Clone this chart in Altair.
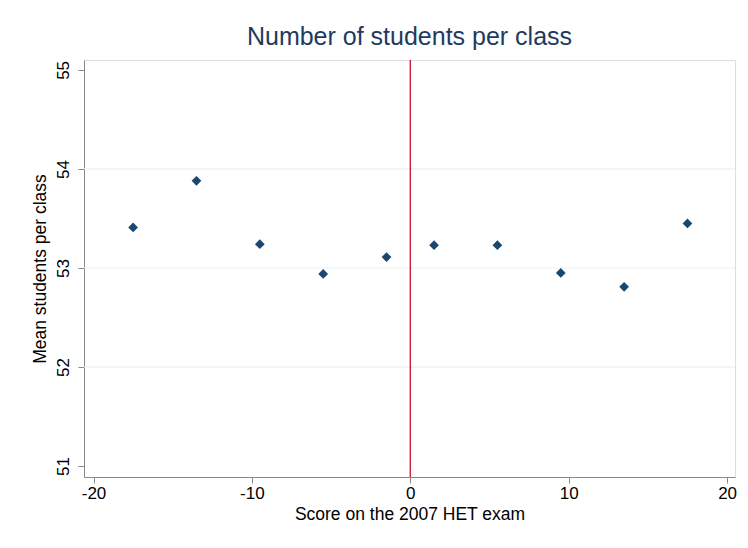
import altair as alt
import pandas as pd

score_bins = [-17.5, -13.5, -9.5, -5.5, -1.5, 1.5, 5.5, 9.5, 13.5, 17.5]
mean_students = [53.41, 53.88, 53.24, 52.94, 53.11, 53.23, 53.23, 52.95, 52.81, 53.45]
grid_values = [52, 53, 54]
cutoff = [0]
x_ticks = [-20, -10, 0, 10, 20]
y_ticks = [51, 52, 53, 54, 55]

pts = pd.DataFrame({"score": score_bins, "mean": mean_students})
grid = pd.DataFrame({"g": grid_values})
cut = pd.DataFrame({"c": cutoff})

FONT = "Liberation Sans"
xscale = alt.Scale(domain=[-20.6, 20.5], nice=False, zero=False)
yscale = alt.Scale(domain=[50.89, 55.1], nice=False, zero=False)

xaxis = alt.Axis(title="Score on the 2007 HET exam", values=x_ticks,
                 grid=False, labelFontSize=17, titleFontSize=17.5,
                 titleFontWeight="normal", labelExpr="'' + datum.value",
                 labelPadding=2, titlePadding=4, tickSize=6,
                 labelFlush=False)
yaxis = alt.Axis(title="Mean students per class", values=y_ticks,
                 grid=False, labelFontSize=17, titleFontSize=17.5,
                 titleFontWeight="normal", labelExpr="'' + datum.value",
                 labelAngle=270, labelAlign="center", labelBaseline="bottom",
                 labelPadding=6, titlePadding=5, tickSize=6)

gridlayer = alt.Chart(grid).mark_rule(color="#eaf2f3", strokeWidth=1.2).encode(
    y=alt.Y("g:Q", scale=yscale, axis=yaxis)
)

cutlayer = alt.Chart(cut).mark_rule(color="#c8102e", strokeWidth=1.3).encode(
    x=alt.X("c:Q", scale=xscale, axis=xaxis)
)

points = alt.Chart(pts).mark_point(
    shape="diamond", filled=True, color="#1a476f", size=95, opacity=1
).encode(
    x=alt.X("score:Q", scale=xscale, axis=xaxis),
    y=alt.Y("mean:Q", scale=yscale, axis=yaxis),
)

chart = alt.layer(gridlayer, cutlayer, points).properties(
    width=651, height=417,
    title=alt.TitleParams("Number of students per class", fontSize=25,
                          font=FONT, fontWeight="normal", color="#1e3a5f",
                          anchor="middle", offset=9),
    autosize=alt.AutoSizeParams(type="none"),
    padding={"left": 76, "top": 52, "right": 5, "bottom": 63},
).configure_axis(
    labelFont=FONT, titleFont=FONT, labelColor="#000000", titleColor="#000000",
    domainColor="#000000", tickColor="#000000", domainWidth=1.2, tickWidth=1.2,
    titleFontWeight="normal",
).configure_view(strokeWidth=0).configure(background="white")

chart.save("out.html", embed_options={"renderer": "svg", "actions": False})
